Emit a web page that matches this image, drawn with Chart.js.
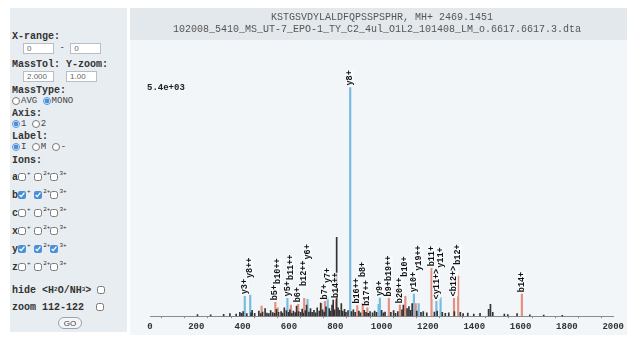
<!DOCTYPE html>
<html>
<head>
<meta charset="utf-8">
<script src="https://cdn.jsdelivr.net/npm/chart.js@4.4.1/dist/chart.umd.min.js"></script>
<style>
html,body{margin:0;padding:0;background:#fff;width:633px;height:339px;overflow:hidden}
#panel{position:absolute;left:10px;top:8px;width:117px;height:324px;background:#e8edf1;color:#333;font-family:"Liberation Mono",monospace}
.row{position:absolute;left:2px;height:12px;display:flex;align-items:center;white-space:pre;font-size:10px;font-weight:bold}
.opt{font-family:"Liberation Mono",monospace;font-size:9px;font-weight:normal;color:#444}
input[type=text]{box-sizing:border-box;width:31px;height:11px;border:1px solid #b7bec5;background:#fff;font:8px "Liberation Sans",Arial,sans-serif;color:#666;padding:0 0 0 3px;margin:0}
input[type=radio],input[type=checkbox]{width:8px;height:8px;margin:0 1px 0 0;accent-color:#4a90d9}
sup{font-size:6px;font-weight:normal;line-height:0;position:relative;top:-3px;vertical-align:baseline}
sub{font-size:6px;line-height:0}
.go{box-sizing:border-box;width:24px;height:12px;border:1px solid #9aa3ab;border-radius:6px;background:#f4f6f8;font:8px "Liberation Sans",Arial,sans-serif;color:#444;display:flex;align-items:center;justify-content:center}
#plot{position:absolute;left:130px;top:8px}
</style>
</head>
<body>
<div id="panel">
  <div class="row" style="top:22px">X-range:</div>
  <div class="row" style="top:34px;left:13px"><input type="text" value="0"><span class="opt"> - </span><input type="text" value="0"></div>
  <div class="row" style="top:50px">MassTol: Y-zoom:</div>
  <div class="row" style="top:62px;left:13px"><input type="text" value="2.000"><span>  </span><input type="text" value="1.00"></div>
  <div class="row" style="top:76px">MassType:</div>
  <div class="row" style="top:87px"><input type="radio" name="mt"><span class="opt">AVG </span><input type="radio" name="mt" checked><span class="opt">MONO</span></div>
  <div class="row" style="top:99px">Axis:</div>
  <div class="row" style="top:110px"><input type="radio" name="ax" checked><span class="opt">1 </span><input type="radio" name="ax"><span class="opt">2</span></div>
  <div class="row" style="top:122px">Label:</div>
  <div class="row" style="top:133px"><input type="radio" name="lb" checked><span class="opt">I </span><input type="radio" name="lb"><span class="opt">M </span><input type="radio" name="lb"><span class="opt">-</span></div>
  <div class="row" style="top:146px">Ions:</div>
  <div class="row" style="top:163px">a<input type="checkbox"><sup>+ </sup><input type="checkbox"><sup>2+</sup><input type="checkbox"><sup>3+</sup></div>
  <div class="row" style="top:181px">b<input type="checkbox" checked><sup>+ </sup><input type="checkbox" checked><sup>2+</sup><input type="checkbox"><sup>3+</sup></div>
  <div class="row" style="top:199px">c<input type="checkbox"><sup>+ </sup><input type="checkbox"><sup>2+</sup><input type="checkbox"><sup>3+</sup></div>
  <div class="row" style="top:217px">x<input type="checkbox"><sup>+ </sup><input type="checkbox"><sup>2+</sup><input type="checkbox"><sup>3+</sup></div>
  <div class="row" style="top:235px">y<input type="checkbox" checked><sup>+ </sup><input type="checkbox" checked><sup>2+</sup><input type="checkbox" checked><sup>3+</sup></div>
  <div class="row" style="top:253px">z<input type="checkbox"><sup>+ </sup><input type="checkbox"><sup>2+</sup><input type="checkbox"><sup>3+</sup></div>
  <div class="row" style="top:276px">hide &lt;H<sub>2</sub>O/NH<sub>3</sub>&gt; <input type="checkbox"></div>
  <div class="row" style="top:293px">zoom 112-122  <input type="checkbox"></div>
  <div class="row" style="top:309px;left:48px"><div class="go">GO</div></div>
</div>
<canvas id="plot" width="497" height="327"></canvas>
<script>
// Spectrum header
const headerLines = [
  'KSTGSVDYLALDFQPSSPSPHR, MH+ 2469.1451',
  '102008_5410_MS_UT-7_EPO-1_TY_C2_4ul_O1L2_101408_LM_o.6617.6617.3.dta'
];

// m/z axis
const xMin = 0;
const xMax = 2000;
const xTickLabels = [0, 200, 400, 600, 800, 1000, 1200, 1400, 1600, 1800, 2000];

// Unassigned peaks
const noiseMz = [205, 262, 318, 345, 372, 388, 395, 402, 418, 436, 441, 452, 470, 478, 486, 497, 505, 513, 521, 530,
  538, 546, 555, 566, 572, 580, 589, 598, 604, 612, 619, 627, 633, 641, 650, 657, 662, 671, 676, 686,
  693, 700, 708, 715, 722, 731, 737, 745, 752, 760, 774, 779, 786, 791, 797, 806, 812, 818, 826, 832,
  840, 846, 855, 870, 878, 886, 902, 909, 925, 933, 942, 950, 961, 970, 978, 1000, 1008, 1015, 1040, 1052,
  1060, 1070, 1088, 1094, 1110, 1118, 1125, 1132, 1152, 1170, 1180, 1195, 1228, 1240, 1262, 1275, 1290, 1314, 1340, 1352,
  1372, 1398, 1425, 1462, 1470, 1480, 1530, 1545, 1585, 1640, 1700, 1780];
const noiseInt = [40, 30, 45, 60, 50, 90, 70, 110, 60, 80, 140, 70, 120, 60, 95, 180, 75, 60, 130, 85,
  70, 160, 90, 110, 75, 200, 130, 90, 150, 70, 120, 85, 240, 110, 90, 170, 75, 130, 260, 100,
  180, 90, 140, 80, 200, 120, 310, 150, 100, 220, 180, 120, 260, 380, 150, 1860, 200, 140, 300, 120,
  160, 90, 130, 110, 150, 90, 120, 80, 140, 90, 70, 110, 80, 120, 90, 140, 80, 100, 90, 130,
  70, 110, 150, 260, 180, 230, 140, 300, 120, 90, 110, 80, 100, 120, 90, 70, 80, 110, 90, 60,
  75, 50, 65, 160, 280, 90, 50, 40, 60, 30, 25, 20];

// Matched b ions
const bMz = [482.0, 541.2, 551.7, 608.3, 640.3, 665.8, 739.3, 755.3, 803.4, 894.9, 918.4, 938.4, 1031.4, 1079.0, 1102.5, 1147.5, 1215.6, 1312.6, 1330.6, 1605.7];
const bInt = [240, 330, 200, 260, 280, 420, 300, 350, 380, 250, 300, 200, 420, 260, 470, 300, 1130, 420, 950, 520];
const bLabel = ['', 'b5+', 'b10++', 'b11++', 'b6+', 'b12++', '', 'b7+', 'b14++', 'b16++', 'b8+', 'b17++', 'b9+b19++', 'b20++', 'b10+', '', 'b11+', '<b12+>', 'b12+', 'b14+'];

// Matched y ions
const yMz = [409.2, 432.7, 593.3, 680.3, 767.4, 864.4, 987.0, 992.5, 1139.6, 1160.1, 1236.6, 1254.6];
const yInt = [470, 500, 420, 400, 450, 5400, 280, 430, 520, 300, 350, 440];
const yLabel = ['y3+', 'y8++', 'y5+', 'y6+', 'y7+', 'y8+', '', 'y9+', 'y10+', 'y19++', '<y11+>', 'y11+'];

const pts = (xs, ys) => xs.map((x, i) => ({ x, y: ys[i] }));
const labelsOf = { noise: null, b: bLabel, y: yLabel };

const maxInt = Math.max(...noiseInt, ...bInt, ...yInt);
function sciLabel(v) {
  const e = Math.floor(Math.log10(v));
  const m = (v / Math.pow(10, e)).toFixed(1);
  return m + 'e' + (e < 0 ? '-' : '+') + String(Math.abs(e)).padStart(2, '0');
}

const backdrop = {
  id: 'backdrop',
  beforeDraw(chart) {
    const { ctx, width, height } = chart;
    ctx.save();
    ctx.fillStyle = '#f2f6f9';
    ctx.fillRect(0, 0, width, height);
    ctx.fillStyle = '#e3e8ec';
    ctx.fillRect(0, 0, width, 32);
    ctx.fillStyle = '#555';
    ctx.font = '10px "Liberation Mono", monospace';
    ctx.textAlign = 'center';
    ctx.textBaseline = 'middle';
    ctx.fillText(headerLines[0], 252, 9);
    ctx.fillText(headerLines[1], 247, 21);
    ctx.restore();
  }
};

const ionLabels = {
  id: 'ionLabels',
  afterDatasetsDraw(chart) {
    const { ctx, scales: { x: xs, y: ys }, chartArea } = chart;
    ctx.save();
    // maximum intensity marker
    ctx.fillStyle = '#222';
    ctx.font = 'bold 9px "Liberation Mono", monospace';
    ctx.textAlign = 'left';
    ctx.textBaseline = 'middle';
    ctx.fillText(sciLabel(maxInt), chartArea.left - 3, ys.getPixelForValue(maxInt));

    ctx.font = 'bold 8.5px "Liberation Mono", monospace';
    const items = [];
    chart.data.datasets.forEach(ds => {
      const lab = labelsOf[ds.kind];
      if (!lab) return;
      ds.data.forEach((p, i) => {
        if (!lab[i]) return;
        items.push({ x: xs.getPixelForValue(p.x), top: ys.getPixelForValue(p.y), text: lab[i] });
      });
    });
    items.sort((a, b) => a.x - b.x);
    const placed = [];
    items.forEach(it => {
      const len = ctx.measureText(it.text).width;
      let bottom = it.top - 2;
      let moved = true;
      while (moved) {
        moved = false;
        for (const p of placed) {
          if (Math.abs(p.x - it.x) < 6.5 && bottom > p.bottom - p.len - 1 && bottom - len < p.bottom) {
            bottom = p.bottom - p.len - 1;
            moved = true;
          }
        }
      }
      placed.push({ x: it.x, bottom, len });
      ctx.save();
      ctx.translate(it.x, bottom);
      ctx.rotate(-Math.PI / 2);
      ctx.fillStyle = 'rgba(250,252,253,0.75)';
      ctx.fillRect(0, -4, len, 8);
      ctx.fillStyle = '#111';
      ctx.textAlign = 'left';
      ctx.textBaseline = 'middle';
      ctx.fillText(it.text, 0, 0);
      ctx.restore();
    });
    ctx.restore();
  }
};

new Chart(document.getElementById('plot'), {
  type: 'bar',
  data: {
    datasets: [
      { kind: 'noise', data: pts(noiseMz, noiseInt), backgroundColor: '#333', barThickness: 1, grouped: false },
      { kind: 'b', data: pts(bMz, bInt), backgroundColor: '#e48f7f', barThickness: 1.5, grouped: false },
      { kind: 'y', data: pts(yMz, yInt), backgroundColor: '#78bbe0', barThickness: 1.5, grouped: false }
    ]
  },
  options: {
    responsive: false,
    animation: false,
    devicePixelRatio: 1,
    layout: { padding: { left: 20, right: 10, top: 40, bottom: 0 } },
    plugins: { legend: { display: false }, tooltip: { enabled: false }, title: { display: false } },
    scales: {
      x: {
        type: 'linear',
        min: xMin,
        max: xMax,
        offset: false,
        grid: { drawOnChartArea: false, drawTicks: true, tickLength: 2, color: '#8a8a8a' },
        border: { display: true, color: '#8a8a8a', width: 1 },
        ticks: {
          stepSize: 100,
          autoSkip: false,
          maxRotation: 0,
          padding: 3,
          color: '#333',
          font: { family: '"Liberation Mono", monospace', size: 9, weight: 'bold' },
          callback: v => (xTickLabels.includes(v) ? String(v) : '')
        }
      },
      y: {
        display: false,
        min: 0,
        max: 6334
      }
    }
  },
  plugins: [backdrop, ionLabels]
});
</script>
</body>
</html>
